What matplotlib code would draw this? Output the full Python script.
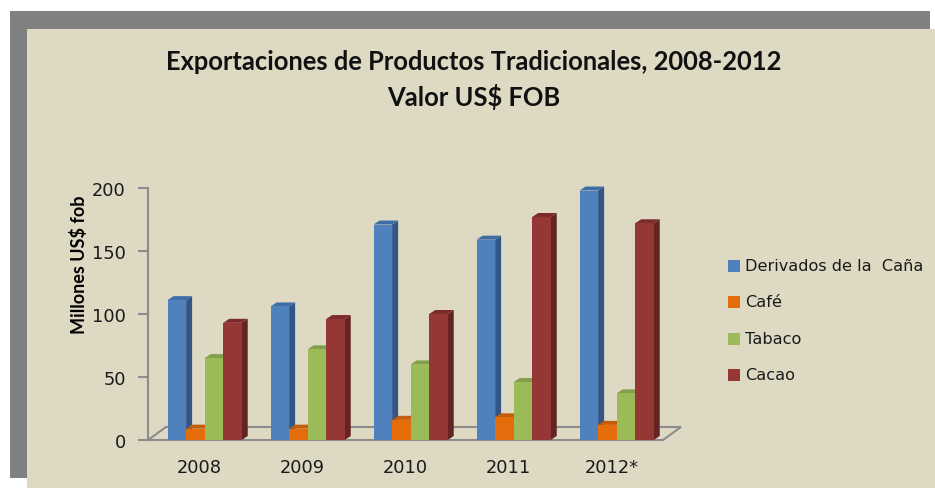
import matplotlib
matplotlib.use("Agg")
import matplotlib.pyplot as plt
from matplotlib.patches import Rectangle, Polygon

# ---- data ----
years = ["2008", "2009", "2010", "2011", "2012*"]
series_names = ["Derivados de la  Caña", "Café", "Tabaco", "Cacao"]
derivados = [111, 106, 171, 159, 198]
cafe = [9, 9, 16, 18, 12]
tabaco = [65, 72, 60, 46, 37]
cacao = [93, 96, 100, 177, 172]
series = [derivados, cafe, tabaco, cacao]
y_ticks = [0, 50, 100, 150, 200]

title_1 = "Exportaciones de Productos Tradicionales, 2008-2012"
title_2 = "Valor US$ FOB"
ylabel = "Millones US$ fob"

front_colors = ["#4F81BD", "#E46C0A", "#9BBB59", "#953735"]
side_colors = ["#345687", "#B05408", "#768F40", "#632423"]
top_colors = ["#3F6DA7", "#C45C09", "#849F4B", "#7A2B2A"]

W, H = 935, 489
fig = plt.figure(figsize=(W / 100, H / 100), dpi=100)
fig.patch.set_facecolor("white")

# frame: gray shadow and beige panel
fig.patches.append(Rectangle((10 / W, 1 - 479 / H), 920 / W, 467 / H,
                             transform=fig.transFigure, facecolor="#808080",
                             edgecolor="none", zorder=-2))
fig.patches.append(Rectangle((27 / W, 0), 908 / W, 459 / H,
                             transform=fig.transFigure, facecolor="#DDD9C3",
                             edgecolor="none", zorder=-1))

# axes area (front plane)
ax_l, ax_r, ax_b, ax_t = 148, 663, 441, 189
ax = fig.add_axes([ax_l / W, 1 - ax_b / H, (ax_r - ax_l) / W, (ax_b - ax_t) / H])
ax.set_zorder(2)
ax.set_facecolor("none")
ax.set_xlim(0, len(years))
ax.set_ylim(0, 200)

px_x = (ax_r - ax_l) / len(years)   # pixels per x unit
px_y = (ax_b - ax_t) / 200.0        # pixels per y unit

grid_col = "#8C8C8C"
for s in ["top", "right"]:
    ax.spines[s].set_visible(False)
ax.spines["left"].set_color(grid_col)
ax.spines["left"].set_linewidth(1.5)
ax.spines["bottom"].set_color(grid_col)
ax.spines["bottom"].set_linewidth(1.5)

# floor (3D)
fdx, fdy = 18 / px_x, 13 / px_y
n = len(years)
ax.plot([0, fdx, n + fdx, n], [0, fdy, fdy, 0], color=grid_col, lw=1.5,
        clip_on=False, zorder=1, solid_joinstyle="miter")

ax.set_yticks(y_ticks)
ax.tick_params(axis="y", length=7, width=1.5, color=grid_col, pad=9,
               labelsize=12.8, labelcolor="#1a1a1a")
ax.set_xticks([i + 0.5 for i in range(n)])
ax.set_xticklabels(years)
ax.tick_params(axis="x", length=0, pad=13, labelsize=12.8, labelcolor="#1a1a1a")

# bars
w = 0.18
bdx, bdy = 6 / px_x, 4 / px_y
for j, vals in enumerate(series):
    pos = [i + 0.55 + (j - 1.5) * w for i in range(n)]
    ax.bar(pos, vals, width=w, bottom=0, color=front_colors[j],
           edgecolor="none", zorder=10 + 3 * j, clip_on=False)
    for x, v in zip(pos, vals):
        x0, x1 = x - w / 2, x + w / 2
        ax.add_patch(Polygon([(x1, 0), (x1 + bdx, bdy), (x1 + bdx, v + bdy), (x1, v)],
                             closed=True, facecolor=side_colors[j], edgecolor="none",
                             zorder=9 + 3 * j, clip_on=False))
        ax.add_patch(Polygon([(x0, v), (x1, v), (x1 + bdx, v + bdy), (x0 + bdx, v + bdy)],
                             closed=True, facecolor=top_colors[j], edgecolor="none",
                             zorder=9 + 3 * j, clip_on=False))

ax.set_ylabel(ylabel, fontsize=13, fontweight="bold", family="Lato",
              va="center")
ax.yaxis.set_label_coords((79 - ax_l) / (ax_r - ax_l),
                          (ax_b - 265) / (ax_b - ax_t))

# title
fig.text(474 / W, 1 - 62 / H, title_1, ha="center", va="center", fontsize=18.4,
         fontweight="bold", family="Lato", color="#111111")
fig.text(474 / W, 1 - 97 / H, title_2, ha="center", va="center", fontsize=18.4,
         fontweight="bold", family="Lato", color="#111111")

# legend
leg_y = [267, 303, 340, 376]
for j, name in enumerate(series_names):
    fig.patches.append(Rectangle((728 / W, 1 - (leg_y[j] + 6) / H), 12 / W, 12 / H,
                                 transform=fig.transFigure, facecolor=front_colors[j],
                                 edgecolor="none", zorder=3))
    fig.text(745 / W, 1 - leg_y[j] / H, name, ha="left", va="center",
             fontsize=11.6, color="#1a1a1a")

fig.savefig("out.png", dpi=100)
